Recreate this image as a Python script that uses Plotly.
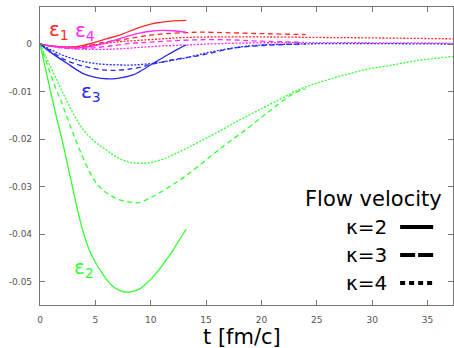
import plotly.graph_objects as go

# ---------------- data ----------------
# epsilon_2 (green)
t_e2_k2 = [0, 0.5, 1.0, 1.5, 2.0, 2.5, 3.0, 3.5, 4.0, 4.5, 5.0, 5.5, 6.0, 6.5, 7.0, 7.5, 8.0, 8.5, 9.0, 9.5, 10.0, 10.5, 11.0, 11.5, 12.0, 12.5, 13.0, 13.2]
e2_k2 = [0, -0.0052, -0.0105, -0.0155, -0.0202, -0.0255, -0.0308, -0.0360, -0.0403, -0.0436, -0.0459, -0.0478, -0.0495, -0.0508, -0.0516, -0.0521, -0.0522, -0.0520, -0.0515, -0.0506, -0.0495, -0.0482, -0.0467, -0.0451, -0.0434, -0.0415, -0.0397, -0.0390]

t_e2_k3 = [0, 0.5, 1.0, 1.47, 1.9, 2.86, 3.43, 4.5, 5.2, 6.0, 7.0, 8.0, 8.8, 10.0, 11.7, 13.0, 14.4, 15.9, 17.0, 18.6, 20.0, 21.0, 22.3, 23.0, 24.0]
e2_k3 = [0, -0.0033, -0.0066, -0.0096, -0.0120, -0.0180, -0.0214, -0.0270, -0.0296, -0.0313, -0.0326, -0.0332, -0.0334, -0.0323, -0.0300, -0.0280, -0.0255, -0.0227, -0.0207, -0.0180, -0.0154, -0.0136, -0.0113, -0.0103, -0.0094]

t_e2_k4 = [0, 0.5, 1.0, 1.5, 1.92, 2.5, 3.0, 3.9, 5.0, 6.0, 7.0, 8.0, 9.0, 10.0, 11.0, 12.0, 13.0, 14.0, 15.0, 16.0, 17.0, 18.0, 19.0, 20.0, 21.0, 22.0, 23.0, 24.0, 25.0, 26.0, 27.0, 28.0, 29.5, 31.6, 34.0, 37.3]
e2_k4 = [0, -0.0025, -0.0050, -0.0075, -0.0096, -0.0123, -0.0146, -0.0180, -0.0206, -0.0223, -0.0239, -0.0248, -0.0251, -0.0249, -0.0243, -0.0233, -0.0222, -0.0210, -0.0198, -0.0186, -0.0173, -0.0160, -0.0148, -0.0136, -0.0124, -0.0112, -0.0100, -0.0090, -0.0082, -0.0075, -0.0068, -0.0062, -0.0053, -0.0045, -0.0035, -0.0026]

# epsilon_3 (blue)
t_e3_k2 = [0, 1.0, 2.4, 3.9, 5.0, 6.0, 7.0, 8.4, 9.0, 10.2, 11.5, 12.5, 13.2]
e3_k2 = [0, -0.0018, -0.0040, -0.0062, -0.0070, -0.0073, -0.0072, -0.0065, -0.0058, -0.0041, -0.0023, -0.0010, -0.0002]

t_e3_k3 = [0, 1.0, 2.0, 3.0, 4.0, 5.0, 6.0, 7.0, 8.0, 9.0, 10.0, 11.0, 12.0, 13.0, 14.4, 16.0, 17.1, 18.0, 20.0, 22.0, 24.0]
e3_k3 = [0, -0.0015, -0.0030, -0.0040, -0.0047, -0.0052, -0.0055, -0.0055, -0.0053, -0.0049, -0.0043, -0.0038, -0.0033, -0.0029, -0.0024, -0.0016, -0.0010, -0.0007, -0.0003, -0.0001, 0.0000]

t_e3_k4 = [0, 1.0, 2.0, 3.0, 4.0, 5.0, 6.0, 7.2, 8.4, 9.6, 11.0, 12.0, 13.0, 14.4, 16.0, 18.4, 20.0, 23.0, 26.0, 30.0, 37.3]
e3_k4 = [0, -0.0012, -0.0023, -0.0031, -0.0037, -0.0041, -0.0043, -0.0044, -0.0044, -0.0042, -0.0038, -0.0034, -0.0030, -0.0022, -0.0014, -0.0005, -0.0002, 0.0000, 0.0001, 0.0001, 0.0000]

# epsilon_1 (red)
t_e1_k2 = [0, 1.0, 2.0, 3.0, 4.0, 5.0, 6.0, 7.2, 8.4, 9.0, 10.2, 11.0, 12.0, 13.2]
e1_k2 = [0, -0.0004, -0.0006, -0.0006, -0.0002, 0.0004, 0.0011, 0.0019, 0.0030, 0.0035, 0.0043, 0.0046, 0.0049, 0.0050]

t_e1_k3 = [0, 1.0, 2.0, 3.0, 4.0, 5.4, 7.0, 8.4, 10.0, 11.4, 13.2, 14.4, 16.8, 20.0, 24.0]
e1_k3 = [0, -0.0004, -0.0007, -0.0007, -0.0005, 0.0002, 0.0008, 0.0013, 0.0019, 0.0022, 0.0024, 0.0025, 0.0024, 0.0022, 0.0020]

t_e1_k4 = [0, 2.0, 4.0, 5.4, 7.2, 8.4, 11.0, 13.2, 16.0, 20.0, 25.0, 30.0, 37.3]
e1_k4 = [0, -0.0006, -0.0004, 0.0000, 0.0005, 0.0007, 0.0011, 0.0014, 0.0015, 0.0015, 0.0014, 0.0013, 0.0011]

# epsilon_4 (magenta)
t_e4_k2 = [0, 1.0, 2.0, 3.0, 4.0, 5.0, 6.0, 7.0, 8.0, 9.0, 10.0, 11.0, 12.0, 13.2]
e4_k2 = [0, -0.0004, -0.0007, -0.0008, -0.0007, -0.0003, 0.0003, 0.0010, 0.0017, 0.0023, 0.0027, 0.0029, 0.0028, 0.0025]

t_e4_k3 = [0, 2.0, 4.0, 6.0, 8.4, 10.0, 12.0, 14.4, 17.0, 20.0, 23.8]
e4_k3 = [0, -0.0008, -0.0009, -0.0005, 0.0002, 0.0004, 0.0007, 0.0009, 0.0009, 0.0006, 0.0004]

t_e4_k4 = [0, 2.0, 4.0, 6.0, 7.2, 9.0, 11.0, 13.2, 15.0, 18.0, 22.0, 26.0, 37.3]
e4_k4 = [0, -0.0008, -0.0011, -0.0011, -0.0010, -0.0007, -0.0004, -0.0002, 0.0000, 0.0002, 0.0003, 0.0003, 0.0002]

x_ticks = [0, 5, 10, 15, 20, 25, 30, 35]
y_ticks = [0, -0.01, -0.02, -0.03, -0.04, -0.05]
y_ticktext = ["0", "-0.01", "-0.02", "-0.03", "-0.04", "-0.05"]

RED, MAG, BLUE, GREEN = "#ff2a2a", "#ff2aff", "#2a2af0", "#33ff33"
DASH = "5px,3.5px"
DOT = "2px,1.5px"

series = [
    (t_e1_k4, e1_k4, RED, DOT), (t_e4_k4, e4_k4, MAG, DOT), (t_e3_k4, e3_k4, BLUE, DOT), (t_e2_k4, e2_k4, GREEN, DOT),
    (t_e1_k3, e1_k3, RED, DASH), (t_e4_k3, e4_k3, MAG, DASH), (t_e3_k3, e3_k3, BLUE, DASH), (t_e2_k3, e2_k3, GREEN, DASH),
    (t_e1_k2, e1_k2, RED, "solid"), (t_e4_k2, e4_k2, MAG, "solid"), (t_e3_k2, e3_k2, BLUE, "solid"), (t_e2_k2, e2_k2, GREEN, "solid"),
]

fig = go.Figure()
for tx, yv, col, dash in series:
    fig.add_trace(go.Scatter(x=tx, y=yv, mode="lines",
                             line=dict(color=col, width=1.3, dash=dash, shape="spline", smoothing=1.0),
                             showlegend=False, hoverinfo="skip"))

FONT = "DejaVu Sans"
axis_common = dict(showline=True, linecolor="#777777", linewidth=1.2, mirror="allticks",
                   ticks="inside", ticklen=5, tickcolor="#777777", tickwidth=1,
                   showgrid=False, zeroline=False, automargin=False,
                   tickfont=dict(family=FONT, size=9, color="#555555"))

fig.update_xaxes(range=[0, 37.3], tickvals=x_ticks, ticklabelstandoff=6, **axis_common)
fig.update_yaxes(range=[-0.0549, 0.0078], tickvals=y_ticks, ticktext=y_ticktext, ticklabelstandoff=5,
                 **axis_common)

fig.add_annotation(x=0.489, y=-0.107, xref="paper", yref="paper", text="t [fm/c]", showarrow=False,
                   xanchor="center", yanchor="middle", font=dict(family=FONT, size=21, color="black"))

ann = [
    dict(x=0.6, y=0.0030, text="ε<sub>1</sub>", color=RED),
    dict(x=3.0, y=0.0028, text="ε<sub>4</sub>", color=MAG),
    dict(x=3.5, y=-0.0100, text="ε<sub>3</sub>", color=BLUE),
    dict(x=2.85, y=-0.0472, text="ε<sub>2</sub>", color=GREEN),
]
for a in ann:
    fig.add_annotation(x=a["x"], y=a["y"], xref="x", yref="y", text=a["text"], showarrow=False,
                       xanchor="left", yanchor="middle", font=dict(family=FONT, size=20, color=a["color"]))

legend_title = "Flow velocity"
legend_labels = ["κ=2", "κ=3", "κ=4"]
legend_dash = ["solid", "15px,3px", "5px,4px"]
legend_y = [0.262, 0.168, 0.074]

fig.add_annotation(x=0.978, y=0.356, xref="paper", yref="paper", text=legend_title, showarrow=False,
                   xanchor="right", yanchor="middle", font=dict(family=FONT, size=21, color="black"))
for lab, dsh, yy in zip(legend_labels, legend_dash, legend_y):
    fig.add_annotation(x=0.845, y=yy, xref="paper", yref="paper", text=lab, showarrow=False,
                       xanchor="right", yanchor="middle", font=dict(family=FONT, size=20, color="black"))
    fig.add_shape(type="line", xref="paper", yref="paper", x0=0.872, x1=0.952, y0=yy, y1=yy,
                  line=dict(color="black", width=4, dash=dsh))

fig.update_layout(width=454, height=348, margin=dict(l=40, r=1, t=7, b=43),
                  plot_bgcolor="white", paper_bgcolor="white")

fig.write_html("out.html", config={"displayModeBar": False},
               post_script="document.body.style.margin='0';document.body.style.overflow='hidden';")
